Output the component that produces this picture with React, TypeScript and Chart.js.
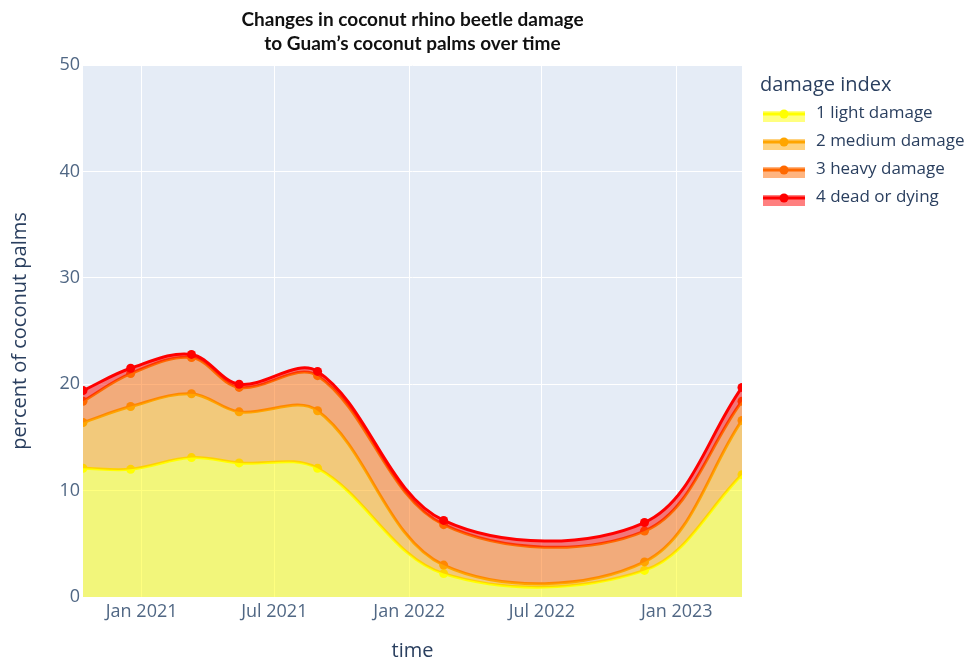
import React, { useEffect, useRef } from "react";
import { Chart, registerables } from "chart.js";

Chart.register(...registerables);

// ---- data ----
const surveyDates = [
  "2020-10-13",
  "2020-12-17",
  "2021-03-10",
  "2021-05-14",
  "2021-08-29",
  "2022-02-17",
  "2022-11-18",
  "2023-03-31",
];
const lightDamage = [12.1, 12.0, 13.1, 12.6, 12.1, 2.2, 2.5, 11.5];
const mediumDamage = [4.3, 5.9, 6.0, 4.8, 5.4, 0.8, 0.8, 5.1];
const heavyDamage = [2.0, 3.1, 3.4, 2.3, 3.3, 3.8, 2.9, 1.8];
const deadOrDying = [1.0, 0.5, 0.3, 0.3, 0.4, 0.4, 0.8, 1.3];

const seriesNames = ["1 light damage", "2 medium damage", "3 heavy damage", "4 dead or dying"];
const seriesColors = ["rgb(255,255,0)", "rgb(255,165,0)", "rgb(255,105,0)", "rgb(255,0,0)"];
const seriesFills = ["rgba(255,255,0,0.5)", "rgba(255,165,0,0.5)", "rgba(255,105,0,0.5)", "rgba(255,0,0,0.5)"];

const xTickDates = ["2021-01-01", "2021-07-01", "2022-01-01", "2022-07-01", "2023-01-01"];
const xTickLabels = ["Jan 2021", "Jul 2021", "Jan 2022", "Jul 2022", "Jan 2023"];
const yMin = 0;
const yMax = 50;
const yStep = 10;

const chartTitle = ["Changes in coconut rhino beetle damage", "to Guam\u2019s coconut palms over time"];
const xTitle = "time";
const yTitle = "percent of coconut palms";
const legendTitle = "damage index";

const FONT = "'Open Sans', sans-serif";

function toMs(s: string) {
  return new Date(s + "T00:00:00Z").getTime();
}

export default function App() {
  const ref = useRef<HTMLCanvasElement | null>(null);

  useEffect(() => {
    if (!ref.current) return;
    const xs = surveyDates.map(toMs);
    const raw = [lightDamage, mediumDamage, heavyDamage, deadOrDying];
    const cum: number[][] = [];
    raw.forEach((arr, k) => {
      cum.push(arr.map((v, i) => (k === 0 ? v : cum[k - 1][i] + v)));
    });
    // draw order: top series first in array so it is painted last
    const order = [3, 2, 1, 0];
    const datasets = order.map((k, idx) => ({
      label: seriesNames[k],
      data: xs.map((x, i) => ({ x, y: cum[k][i] })),
      borderColor: seriesColors[k],
      backgroundColor: seriesFills[k],
      pointBackgroundColor: seriesColors[k],
      pointBorderColor: seriesColors[k],
      pointRadius: 4.5,
      pointBorderWidth: 0,
      borderWidth: 3,
      tension: 0.35,
      fill: idx === order.length - 1 ? "origin" : "+1",
      clip: 0,
    }));

    const bgPlugin = {
      id: "plotbg",
      beforeDraw(chart: any) {
        const { ctx, chartArea } = chart;
        ctx.save();
        ctx.fillStyle = "#E5ECF6";
        ctx.fillRect(chartArea.left, chartArea.top, chartArea.right - chartArea.left, chartArea.bottom - chartArea.top);
        ctx.restore();
      },
    };

    const overlayPlugin = {
      id: "overlay",
      afterDraw(chart: any) {
        const { ctx, chartArea } = chart;
        ctx.save();
        // title
        ctx.fillStyle = "#111";
        ctx.textAlign = "center";
        ctx.textBaseline = "middle";
        ctx.font = "bold 19px Lato, 'Open Sans', sans-serif";
        const cx = (chartArea.left + chartArea.right) / 2;
        ctx.fillText(chartTitle[0], cx, 20, 352);
        ctx.fillText(chartTitle[1], cx, 44, 352);

        // legend
        const lx = 760;
        ctx.textAlign = "left";
        ctx.fillStyle = "#2a3f5f";
        ctx.font = `20px ${FONT}`;
        ctx.fillText(legendTitle, lx, 85);
        ctx.font = `17px ${FONT}`;
        for (let k = 0; k < 4; k++) {
          const y = 114 + k * 28;
          ctx.fillStyle = seriesFills[k];
          ctx.fillRect(763, y - 3, 42, 11);
          ctx.strokeStyle = seriesColors[k];
          ctx.lineWidth = 3;
          ctx.beginPath();
          ctx.moveTo(763, y);
          ctx.lineTo(805, y);
          ctx.stroke();
          ctx.fillStyle = seriesColors[k];
          ctx.beginPath();
          ctx.arc(784, y, 4.5, 0, Math.PI * 2);
          ctx.fill();
          ctx.fillStyle = "#2a3f5f";
          ctx.fillText(seriesNames[k], 816, y - 1);
        }
        ctx.restore();
      },
    };

    const chart = new Chart(ref.current, {
      type: "line",
      data: { datasets: datasets as any },
      plugins: [bgPlugin, overlayPlugin],
      options: {
        animation: false,
        responsive: true,
        maintainAspectRatio: false,
        layout: { padding: { left: 0, right: 229, top: 65, bottom: 0 } },
        plugins: {
          legend: { display: false },
          tooltip: { enabled: false },
          title: { display: false },
        },
        scales: {
          x: {
            type: "linear",
            min: xs[0],
            max: xs[xs.length - 1],
            afterBuildTicks: (scale: any) => {
              scale.ticks = xTickDates.map((d) => ({ value: toMs(d) }));
            },
            afterFit: (scale: any) => {
              scale.height = 62;
            },
            ticks: {
              autoSkip: false,
              maxRotation: 0,
              color: "#506784",
              font: { family: FONT, size: 18 },
              padding: 4,
              callback: (_v: any, i: number) => xTickLabels[i],
            },
            grid: { color: "#ffffff", lineWidth: 1, drawTicks: false },
            border: { display: false },
            title: {
              display: true,
              text: xTitle,
              color: "#2a3f5f",
              font: { family: FONT, size: 20, lineHeight: 0.8 },
              padding: { top: 0, bottom: 0 },
            },
          },
          y: {
            min: yMin,
            max: yMax,
            afterFit: (scale: any) => {
              scale.width = 83;
            },
            ticks: {
              stepSize: yStep,
              color: "#506784",
              font: { family: FONT, size: 18 },
              padding: 3,
            },
            grid: { color: "#ffffff", lineWidth: 1, drawTicks: false },
            border: { display: false },
            title: {
              display: true,
              text: yTitle,
              color: "#2a3f5f",
              font: { family: FONT, size: 20 },
              padding: { top: 8, bottom: 0 },
            },
          },
        },
      },
    });
    return () => chart.destroy();
  }, []);

  return (
    <div style={{ position: "fixed", left: 0, top: 0, width: 971, height: 659, background: "#fff" }}>
      <canvas ref={ref} style={{ display: "block" }} />
    </div>
  );
}
